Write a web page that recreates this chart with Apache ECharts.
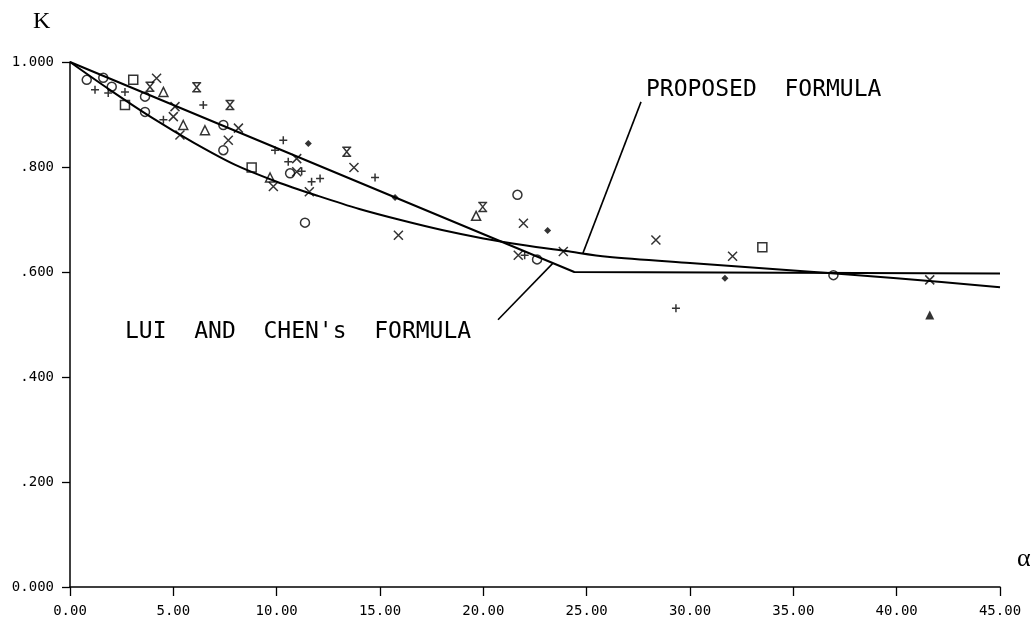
<!DOCTYPE html>
<html>
<head>
<meta charset="utf-8">
<script src="https://cdn.jsdelivr.net/npm/echarts@6/dist/echarts.min.js"></script>
<style>
html,body{margin:0;padding:0;background:#fff;}
#chart{width:1035px;height:624px;}
</style>
</head>
<body>
<div id="chart"></div>
<script>
// ---- data ----
const xTickLabels = ['0.00','5.00','10.00','15.00','20.00','25.00','30.00','35.00','40.00','45.00'];
const yTickLabels = ['0.000','.200','.400','.600','.800','1.000'];

// Proposed formula curve (alpha, K)
const proposedCurve = [[0,1.000],[2,0.945],[4,0.893],[6,0.846],[8,0.804],[10,0.772],[12,0.745],[14,0.720],[16,0.699],[18,0.680],[20,0.664],[22,0.651],[24,0.640],[26,0.629],[30,0.617],[35,0.603],[40,0.588],[45,0.571]];
// Lui and Chen's formula (piecewise linear)
const luiChenCurve = [[0,1.000],[24.4,0.600],[45,0.597]];

// pointer lines (data coordinates)
const proposedPointer = [[27.63,0.924],[24.82,0.636]];
const luiPointer = [[20.71,0.509],[23.37,0.617]];

// test points by symbol
const plusPts = [[1.21,0.947],[1.85,0.941],[2.66,0.943],[6.45,0.918],[4.52,0.890],[10.32,0.851],[14.76,0.780],[9.92,0.832],[10.56,0.810],[11.21,0.792],[11.69,0.772],[12.1,0.778],[22.0,0.632],[29.32,0.531]];
const crossPts = [[4.19,0.969],[5.08,0.915],[5.0,0.896],[5.32,0.861],[8.15,0.874],[7.66,0.851],[13.74,0.799],[10.97,0.816],[10.97,0.791],[9.84,0.763],[11.58,0.753],[15.89,0.670],[21.94,0.693],[21.69,0.632],[23.87,0.639],[28.35,0.661],[32.06,0.630],[41.6,0.585]];
const hourglassPts = [[3.87,0.953],[6.13,0.952],[7.74,0.918],[13.39,0.829],[19.97,0.724]];
const trianglePts = [[4.52,0.943],[5.48,0.880],[6.53,0.870],[9.68,0.780],[19.65,0.707]];
const circlePts = [[0.81,0.966],[1.61,0.970],[2.02,0.953],[3.63,0.905],[3.63,0.934],[7.42,0.880],[7.42,0.832],[10.65,0.788],[11.37,0.694],[21.65,0.747],[22.6,0.624],[36.94,0.594]];
const squarePts = [[3.06,0.966],[2.66,0.918],[8.79,0.799],[33.5,0.647]];
const diamondPts = [[11.53,0.845],[15.73,0.742],[23.11,0.679],[31.69,0.588]];
const filledTrianglePts = [[41.6,0.518]];

// text labels anchored in data coordinates
const proposedLabel = {text:'PROPOSED  FORMULA', at:[27.87,0.946]};
const luiLabel = {text:'LUI  AND  CHEN\'s  FORMULA', at:[2.66,0.486]};

// ---- chart ----
const mono = '"DejaVu Sans Mono", "Liberation Mono", monospace';
const serif = '"Liberation Serif", "DejaVu Serif", serif';
const chart = echarts.init(document.getElementById('chart'), null, {renderer:'canvas'});

function markerSeries(name, data, symbol, size, filled){
  return {
    name, type:'scatter', data, symbol, symbolSize:size, z:5,
    itemStyle: filled ? {color:'#000'} : {color:'rgba(0,0,0,0)', borderColor:'#000', borderWidth:1.5},
    emphasis:{disabled:true}, silent:true
  };
}

const option = {
  animation:false,
  backgroundColor:'#fff',
  grid:{left:70,right:35,top:62,bottom:37},
  xAxis:{
    type:'value', min:0, max:45, interval:5,
    axisLine:{show:true, lineStyle:{color:'#000', width:1.5}},
    axisTick:{show:true, inside:false, length:9, lineStyle:{color:'#000', width:1.3}},
    axisLabel:{color:'#000', fontFamily:mono, fontSize:14, margin:17,
      formatter:(v)=>xTickLabels[Math.round(v/5)]},
    splitLine:{show:false}
  },
  yAxis:{
    type:'value', min:0, max:1, interval:0.2,
    axisLine:{show:true, lineStyle:{color:'#000', width:1.5}},
    axisTick:{show:true, inside:false, length:8, lineStyle:{color:'#000', width:1.3}},
    axisLabel:{color:'#000', fontFamily:mono, fontSize:14, margin:16,
      formatter:(v)=>yTickLabels[Math.round(v/0.2)]},
    splitLine:{show:false}
  },
  series:[
    {name:'Proposed formula', type:'line', data:proposedCurve, smooth:0.3, symbol:'none',
      lineStyle:{color:'#000', width:2}, z:3, silent:true},
    {name:'Lui and Chen formula', type:'line', data:luiChenCurve, symbol:'none',
      lineStyle:{color:'#000', width:2}, z:3, silent:true},
    {name:'pointer1', type:'line', data:proposedPointer, symbol:'none',
      lineStyle:{color:'#000', width:1.6}, z:3, silent:true},
    {name:'pointer2', type:'line', data:luiPointer, symbol:'none',
      lineStyle:{color:'#000', width:1.6}, z:3, silent:true},
    markerSeries('plus', plusPts, 'path://M5 0 L5 10 M0 5 L10 5', 8, false),
    markerSeries('cross', crossPts, 'path://M0 0 L10 10 M10 0 L0 10', 9, false),
    markerSeries('hourglass', hourglassPts, 'path://M0 0 L10 0 M0 10 L10 10 M1 0 L9 10 M9 0 L1 10', 9, false),
    markerSeries('triangle', trianglePts, 'triangle', 9, false),
    markerSeries('circle', circlePts, 'circle', 9, false),
    markerSeries('square', squarePts, 'rect', 9, false),
    markerSeries('diamond', diamondPts, 'diamond', 7, true),
    markerSeries('filled triangle', filledTrianglePts, 'triangle', 9, true)
  ]
};
chart.setOption(option);

// place text annotations using data coordinates
const p1 = chart.convertToPixel({gridIndex:0}, proposedLabel.at);
const p2 = chart.convertToPixel({gridIndex:0}, luiLabel.at);
chart.setOption({
  graphic:[
    {type:'text', left:33, top:10, style:{text:'K', font:'24px '+serif, fill:'#000'}},
    {type:'text', left:1017, top:546, style:{text:'α', font:'26px '+serif, fill:'#000'}},
    {type:'text', x:p1[0], y:p1[1], style:{text:proposedLabel.text, font:'23px '+mono, fill:'#000', textVerticalAlign:'middle'}},
    {type:'text', x:p2[0], y:p2[1], style:{text:luiLabel.text, font:'23px '+mono, fill:'#000', textVerticalAlign:'middle'}}
  ]
});
</script>
</body>
</html>
